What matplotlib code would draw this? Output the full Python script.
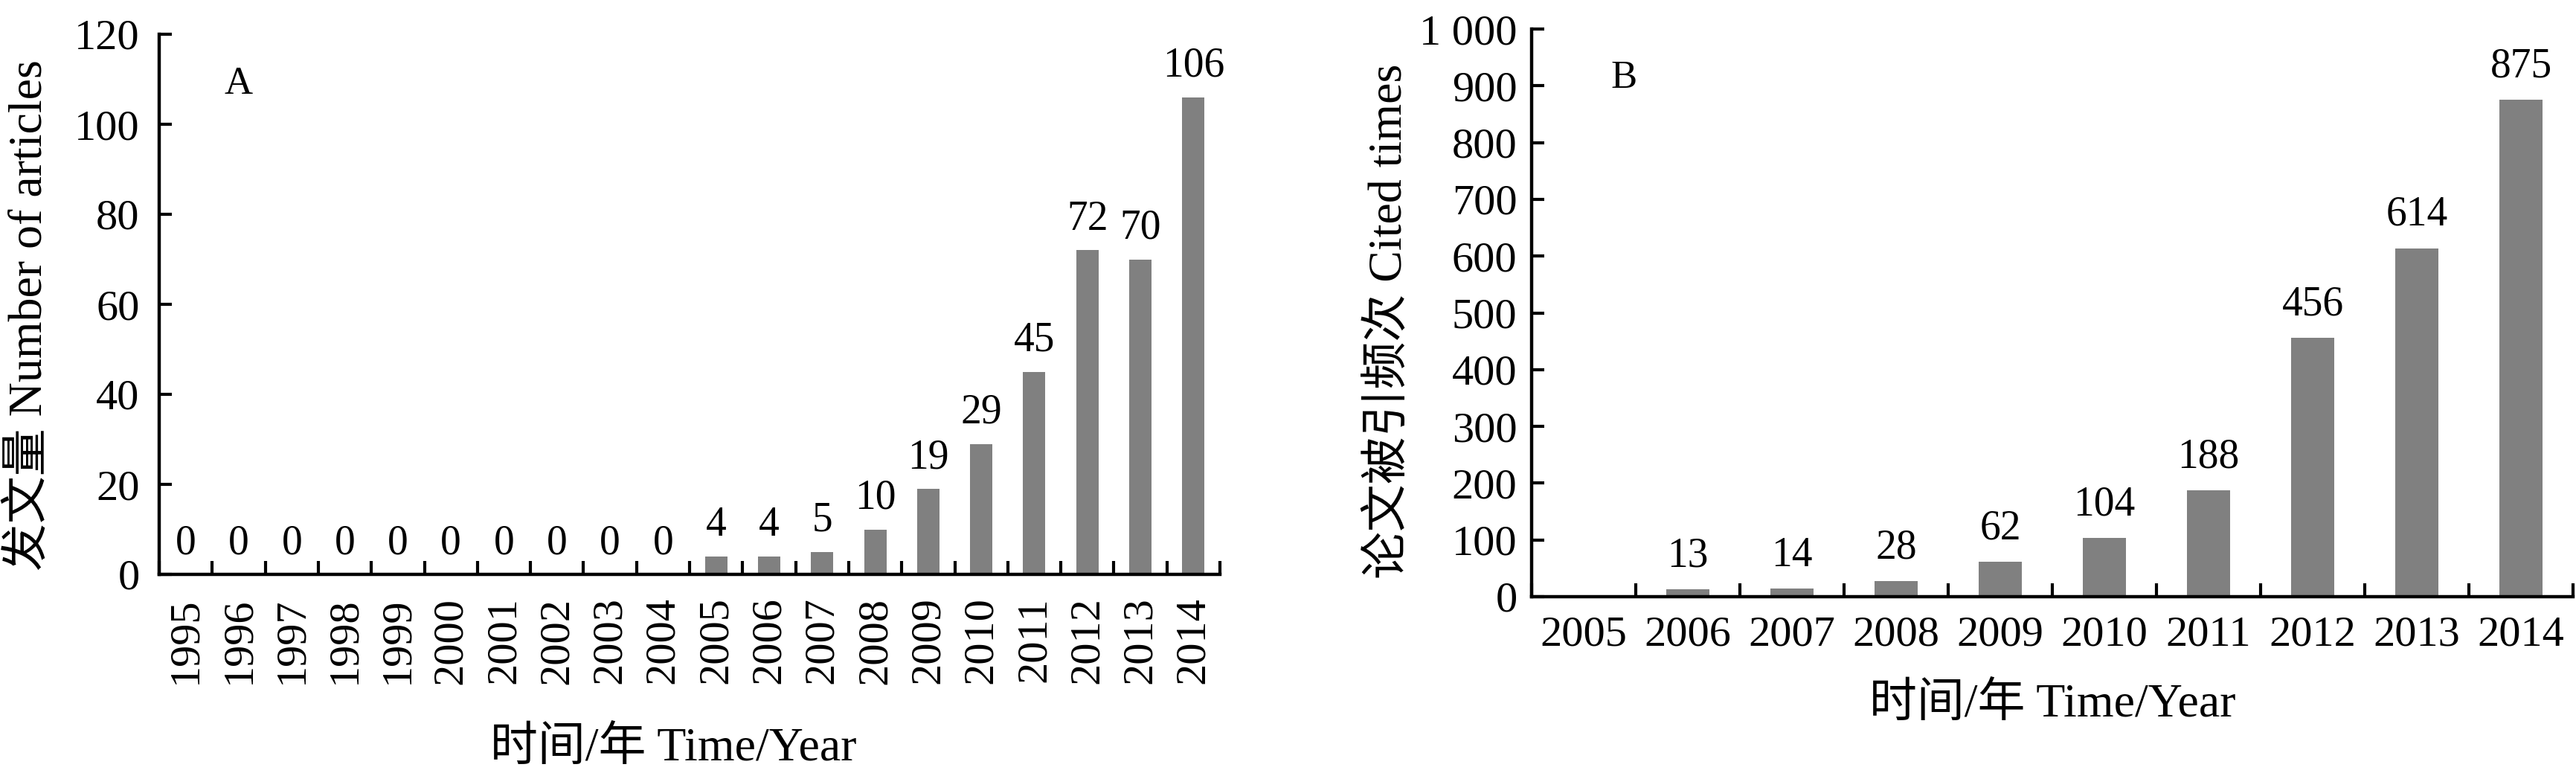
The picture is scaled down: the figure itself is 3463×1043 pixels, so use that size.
import matplotlib
matplotlib.use("Agg")
import matplotlib.pyplot as plt
import numpy as np
from matplotlib.ticker import FixedLocator, NullFormatter

plt.rcParams['font.family'] = ['Liberation Serif', 'Noto Sans CJK SC']

# Panel A data
years_a = ['1995', '1996', '1997', '1998', '1999', '2000', '2001', '2002', '2003', '2004',
           '2005', '2006', '2007', '2008', '2009', '2010', '2011', '2012', '2013', '2014']
articles = [0, 0, 0, 0, 0, 0, 0, 0, 0, 0, 4, 4, 5, 10, 19, 29, 45, 72, 70, 106]
yticks_a = [0, 20, 40, 60, 80, 100, 120]

# Panel B data
years_b = ['2005', '2006', '2007', '2008', '2009', '2010', '2011', '2012', '2013', '2014']
cited = [None, 13, 14, 28, 62, 104, 188, 456, 614, 875]
yticks_b = [0, 100, 200, 300, 400, 500, 600, 700, 800, 900, 1000]
yticklabels_b = ['0', '100', '200', '300', '400', '500', '600', '700', '800', '900', '1 000']

W, H, DPI = 3463, 1043, 100
fig = plt.figure(figsize=(W / DPI, H / DPI), dpi=DPI)

bar_color = '#808080'
fs_tick = 42
fs_label = 46
fs_val = 40
fs_panel = 38


def style_axes(ax, n, ypad):
    for s in ['top', 'right']:
        ax.spines[s].set_visible(False)
    for s in ['left', 'bottom']:
        ax.spines[s].set_linewidth(3.2)
    ax.set_xlim(-0.5, n - 0.5)
    ax.xaxis.set_minor_locator(FixedLocator(np.arange(n + 1) - 0.5))
    ax.xaxis.set_minor_formatter(NullFormatter())
    ax.tick_params(axis='x', which='major', length=0, labelsize=fs_tick)
    ax.tick_params(axis='x', which='minor', direction='in', length=13, width=3)
    ax.tick_params(axis='y', which='major', direction='in', length=12, width=3,
                   labelsize=fs_tick, pad=ypad)


# ---- Panel A ----
axA = fig.add_axes([214 / W, 1 - 772 / H, (1640 - 214) / W, (772 - 46) / H])
xa = np.arange(len(years_a))
axA.bar(xa, articles, width=0.42, color=bar_color, zorder=2)
style_axes(axA, len(years_a), 19)
axA.set_ylim(0, 120)
axA.set_yticks(yticks_a)
axA.set_xticks(xa)
axA.set_xticklabels(years_a, rotation=90)
axA.tick_params(axis='x', which='major', pad=22)
for x, v in zip(xa, articles):
    axA.annotate(str(v), (x, v), xytext=(0, 20), textcoords='offset points',
                 ha='center', va='baseline', fontsize=fs_val)
axA.text(1.0, 109, 'A', ha='center', va='center', fontsize=fs_panel)
axA.set_xlabel('时间/年 Time/Year', fontsize=fs_label, va='top')
axA.xaxis.set_label_coords(0.485, -0.283)
axA.set_ylabel('发文量 Number of articles', fontsize=fs_label, va='top')
axA.yaxis.set_label_coords(-0.143, 0.48)

# ---- Panel B ----
axB = fig.add_axes([2059 / W, 1 - 802 / H, (3459 - 2059) / W, (802 - 39) / H])
xb = np.arange(len(years_b))
hb = [0 if v is None else v for v in cited]
axB.bar(xb, hb, width=0.42, color=bar_color, zorder=2)
style_axes(axB, len(years_b), 14)
axB.set_ylim(0, 1000)
axB.set_yticks(yticks_b)
axB.set_yticklabels(yticklabels_b)
axB.set_xticks(xb)
axB.set_xticklabels(years_b)
axB.tick_params(axis='x', which='major', pad=18)
for x, v in zip(xb, cited):
    if v is None:
        continue
    axB.annotate(str(v), (x, v), xytext=(0, 22), textcoords='offset points',
                 ha='center', va='baseline', fontsize=fs_val)
axB.text(0.386, 913, 'B', ha='center', va='center', fontsize=fs_panel)
axB.set_xlabel('时间/年 Time/Year', fontsize=fs_label, va='top')
axB.xaxis.set_label_coords(0.5, -0.152)
axB.set_ylabel('论文被引频次 Cited times', fontsize=fs_label, va='top')
axB.yaxis.set_label_coords(-0.158, 0.485)

fig.savefig('out.png', dpi=DPI, facecolor='white')
